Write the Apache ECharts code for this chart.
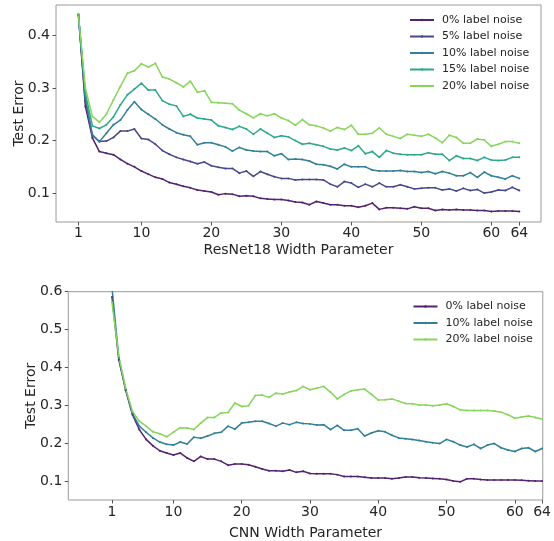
<!DOCTYPE html>
<html>
<head>
<meta charset="utf-8">
<script src="https://cdn.jsdelivr.net/npm/echarts@6/dist/echarts.min.js"></script>
<style>
  html, body { margin: 0; padding: 0; background: #fff; }
  #chart { width: 554px; height: 541px; }
</style>
</head>
<body>
<div id="chart"></div>
<script>
// Width parameters (shared by both panels)
const widths = [1,2,3,4,5,6,7,8,9,10,11,12,13,14,15,16,17,18,19,20,21,22,23,24,25,26,27,28,29,30,31,32,
  33,34,35,36,37,38,39,40,41,42,43,44,45,46,47,48,49,50,51,52,53,54,55,56,57,58,59,60,61,62,63,64];

// ResNet18 test error per label-noise level
const resnet0 = [0.440,0.265,0.205,0.179,0.176,0.173,0.164,0.156,0.150,0.142,0.136,0.130,0.127,0.120,0.117,0.113,
  0.110,0.106,0.104,0.102,0.097,0.099,0.098,0.094,0.095,0.094,0.090,0.089,0.088,0.088,0.086,0.083,
  0.082,0.078,0.084,0.081,0.078,0.078,0.076,0.076,0.073,0.076,0.081,0.069,0.072,0.072,0.071,0.070,
  0.074,0.071,0.071,0.067,0.069,0.068,0.069,0.068,0.068,0.067,0.067,0.065,0.066,0.066,0.066,0.065];
const resnet5 = [0.440,0.275,0.210,0.198,0.199,0.206,0.218,0.218,0.222,0.204,0.202,0.193,0.181,0.174,0.168,0.164,
  0.160,0.156,0.159,0.152,0.149,0.147,0.147,0.138,0.142,0.132,0.141,0.136,0.131,0.128,0.128,0.125,
  0.126,0.126,0.126,0.125,0.117,0.112,0.122,0.119,0.111,0.117,0.112,0.119,0.112,0.112,0.116,0.112,
  0.108,0.109,0.110,0.110,0.106,0.108,0.104,0.109,0.105,0.107,0.100,0.102,0.106,0.105,0.111,0.105];
const resnet10 = [0.440,0.280,0.211,0.198,0.214,0.230,0.239,0.258,0.274,0.259,0.250,0.241,0.230,0.222,0.215,0.211,
  0.208,0.192,0.196,0.196,0.192,0.188,0.180,0.187,0.182,0.180,0.179,0.179,0.171,0.175,0.164,0.165,
  0.164,0.161,0.155,0.154,0.151,0.146,0.155,0.150,0.150,0.150,0.144,0.142,0.142,0.142,0.143,0.141,
  0.141,0.139,0.141,0.137,0.141,0.138,0.133,0.133,0.139,0.130,0.140,0.133,0.130,0.127,0.133,0.128];
const resnet15 = [0.440,0.290,0.228,0.223,0.230,0.245,0.268,0.287,0.298,0.309,0.296,0.296,0.276,0.269,0.266,0.246,
  0.250,0.243,0.241,0.239,0.228,0.225,0.221,0.227,0.222,0.212,0.222,0.214,0.206,0.209,0.207,0.200,
  0.193,0.195,0.192,0.189,0.184,0.182,0.186,0.181,0.190,0.175,0.179,0.168,0.181,0.176,0.174,0.173,
  0.173,0.173,0.177,0.174,0.174,0.162,0.171,0.166,0.166,0.162,0.168,0.163,0.162,0.163,0.168,0.168];
const resnet20 = [0.440,0.300,0.246,0.235,0.250,0.277,0.303,0.328,0.333,0.346,0.340,0.347,0.321,0.317,0.310,0.302,
  0.313,0.292,0.295,0.273,0.272,0.271,0.270,0.258,0.251,0.243,0.251,0.247,0.251,0.243,0.238,0.229,
  0.240,0.230,0.228,0.224,0.218,0.225,0.221,0.229,0.212,0.212,0.214,0.224,0.212,0.208,0.204,0.212,
  0.210,0.208,0.212,0.205,0.196,0.210,0.206,0.195,0.195,0.203,0.201,0.189,0.193,0.198,0.198,0.195];

// CNN test error per label-noise level
const cnn0 = [0.586,0.420,0.340,0.275,0.236,0.210,0.193,0.180,0.174,0.169,0.174,0.161,0.152,0.165,0.158,0.158,
  0.152,0.142,0.145,0.145,0.143,0.138,0.132,0.127,0.127,0.126,0.129,0.123,0.126,0.120,0.119,0.119,
  0.119,0.117,0.112,0.112,0.112,0.110,0.108,0.108,0.108,0.106,0.108,0.111,0.111,0.109,0.108,0.107,
  0.106,0.104,0.100,0.098,0.106,0.106,0.104,0.103,0.103,0.103,0.103,0.103,0.102,0.101,0.100,0.100];
const cnn10 = [0.610,0.425,0.342,0.278,0.245,0.229,0.214,0.203,0.197,0.195,0.203,0.198,0.216,0.213,0.219,0.226,
  0.229,0.245,0.237,0.253,0.255,0.258,0.258,0.252,0.245,0.253,0.249,0.255,0.252,0.251,0.248,0.249,
  0.236,0.247,0.234,0.234,0.238,0.219,0.227,0.233,0.230,0.221,0.214,0.212,0.210,0.207,0.204,0.201,
  0.199,0.210,0.204,0.195,0.190,0.197,0.186,0.195,0.199,0.188,0.182,0.178,0.186,0.188,0.178,0.186];
const cnn20 = [0.572,0.430,0.345,0.284,0.258,0.245,0.230,0.225,0.217,0.229,0.241,0.240,0.236,0.253,0.268,0.268,
  0.280,0.281,0.306,0.297,0.299,0.326,0.327,0.321,0.332,0.330,0.335,0.339,0.350,0.341,0.345,0.350,
  0.335,0.317,0.329,0.338,0.341,0.343,0.329,0.314,0.315,0.317,0.311,0.305,0.304,0.301,0.301,0.299,
  0.301,0.304,0.297,0.288,0.286,0.286,0.286,0.286,0.285,0.282,0.275,0.266,0.269,0.272,0.268,0.264];

// Tick positions
const xTicks = [1, 10, 20, 30, 40, 50, 60, 64];
const resnetYTicks = [0.1, 0.2, 0.3, 0.4];
const cnnYTicks = [0.1, 0.2, 0.3, 0.4, 0.5, 0.6];

const resnetNames = ['0% label noise', '5% label noise', '10% label noise', '15% label noise', '20% label noise'];
const cnnNames = ['0% label noise', '10% label noise', '20% label noise'];

const colors = {
  n0: '#52236f', n5: '#47498a', n10: '#327f98', n15: '#2ca88a', n20: '#88d55c'
};

const font = 'DejaVu Sans';
const textColor = '#262626';

function pairs(ys) { return widths.map((w, i) => [w, ys[i]]); }

function lineSeries(name, ys, color, idx) {
  return {
    name: name, type: 'line', data: pairs(ys),
    xAxisIndex: idx, yAxisIndex: idx,
    symbol: 'circle', symbolSize: 2, showSymbol: true,
    itemStyle: { color: color },
    lineStyle: { color: color, width: 1.5 },
    emphasis: { disabled: true },
    animation: false,
    clip: true
  };
}

function xAxisCfg(idx, min, max, name, labelMargin, nameGap) {
  return {
    type: 'value', gridIndex: idx, min: min, max: max,
    name: name, nameLocation: 'middle', nameGap: nameGap, nameMoveOverlap: false,
    nameTextStyle: { fontFamily: font, fontSize: 14, color: textColor },
    axisLine: { show: false, onZero: false },
    splitLine: { show: false },
    axisTick: { show: true, inside: false, length: 3.5, customValues: xTicks,
      lineStyle: { color: '#555', width: 1 } },
    axisLabel: { customValues: xTicks, margin: labelMargin,
      fontFamily: font, fontSize: 14, color: textColor }
  };
}

function yAxisCfg(idx, min, max, ticks, nameGap) {
  return {
    type: 'value', gridIndex: idx, min: min, max: max,
    name: 'Test Error', nameLocation: 'middle', nameGap: nameGap, nameRotate: 90,
    nameMoveOverlap: false,
    nameTextStyle: { fontFamily: font, fontSize: 14, color: textColor },
    axisLine: { show: false, onZero: false },
    splitLine: { show: false },
    axisTick: { show: true, inside: false, length: 3.5, customValues: ticks,
      lineStyle: { color: '#555', width: 1 } },
    axisLabel: { customValues: ticks, margin: 6,
      formatter: v => v.toFixed(1),
      fontFamily: font, fontSize: 14, color: textColor }
  };
}

function legendCfg(names, left, top) {
  return {
    data: names, orient: 'vertical', left: left, top: top, padding: 0,
    itemWidth: 24, itemHeight: 3, itemGap: 4.5,
    selectedMode: false,
    textStyle: { fontFamily: font, fontSize: 11, color: textColor, lineHeight: 12,
      padding: [0, 0, 0, 3] }
  };
}

const chart = echarts.init(document.getElementById('chart'), null, { renderer: 'canvas' });

chart.setOption({
  backgroundColor: '#fff',
  animation: false,
  grid: [
    { left: 56, top: 5, width: 485, height: 217, show: true,
      borderColor: '#9a9a9a', borderWidth: 1, backgroundColor: 'transparent' },
    { left: 68.3, top: 291.7, width: 475, height: 211, show: true,
      borderColor: '#9a9a9a', borderWidth: 1, backgroundColor: 'transparent' }
  ],
  xAxis: [
    xAxisCfg(0, -2.2, 67.1, 'ResNet18 Width Parameter', 4, 21),
    xAxisCfg(1, -5.4, 64.1, 'CNN Width Parameter', 5, 26)
  ],
  yAxis: [
    yAxisCfg(0, 0.045, 0.458, resnetYTicks, 30),
    yAxisCfg(1, 0.05, 0.6, cnnYTicks, 30)
  ],
  legend: [
    legendCfg(resnetNames, 409, 14),
    legendCfg(cnnNames, 412.5, 300.5)
  ],
  series: [
    lineSeries(resnetNames[0], resnet0, colors.n0, 0),
    lineSeries(resnetNames[1], resnet5, colors.n5, 0),
    lineSeries(resnetNames[2], resnet10, colors.n10, 0),
    lineSeries(resnetNames[3], resnet15, colors.n15, 0),
    lineSeries(resnetNames[4], resnet20, colors.n20, 0),
    lineSeries(cnnNames[0], cnn0, colors.n0, 1),
    lineSeries(cnnNames[1], cnn10, colors.n10, 1),
    lineSeries(cnnNames[2], cnn20, colors.n20, 1)
  ]
});
</script>
</body>
</html>
